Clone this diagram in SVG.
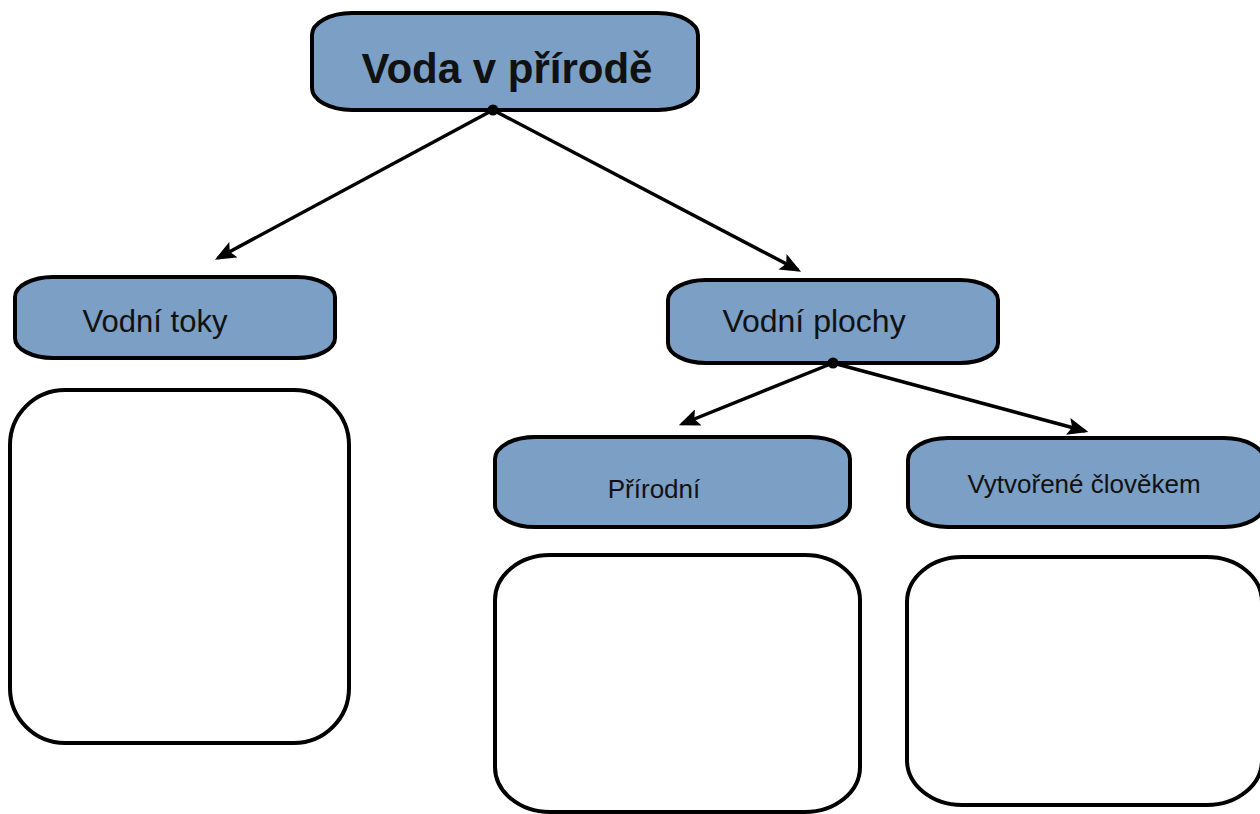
<svg xmlns="http://www.w3.org/2000/svg" width="1260" height="814" viewBox="0 0 1260 814">
<style>
.hd{fill:#7b9fc5;stroke:#000;stroke-width:4}
.bx{fill:#fff;stroke:#000;stroke-width:4}
.t{font-family:"Liberation Sans",Arial,sans-serif;fill:#111;text-anchor:middle}
.c{stroke:#000;stroke-width:3.5;fill:none;marker-end:url(#ah)}
</style>
<defs>
<marker id="ah" markerWidth="6" markerHeight="5" refX="5" refY="2.5" orient="auto" markerUnits="strokeWidth">
<path d="M0,0 L6,2.5 L0,5 L1.2,2.5 Z" fill="#000"/>
</marker>
</defs>
<rect width="1260" height="814" fill="#fff"/>
<g id="voda">
<rect class="hd" x="312" y="13" width="386" height="97" rx="40" ry="22"/>
<text class="t" x="507" y="83" font-size="42" font-weight="bold">Voda v přírodě</text>
</g>
<g id="toky">
<rect class="hd" x="15" y="277" width="320" height="81" rx="38" ry="20"/>
<text class="t" x="155" y="332" font-size="31">Vodní toky</text>
</g>
<g id="toky-box">
<rect class="bx" x="10" y="390" width="339" height="353" rx="55" ry="55"/>
</g>
<g id="plochy">
<rect class="hd" x="668" y="280" width="330" height="83" rx="38" ry="20"/>
<text class="t" x="814" y="332" font-size="32">Vodní plochy</text>
</g>
<g id="prirodni">
<rect class="hd" x="495" y="437" width="355" height="90" rx="40" ry="22"/>
<text class="t" x="654" y="498" font-size="26">Přírodní</text>
</g>
<g id="prirodni-box">
<rect class="bx" x="495" y="555" width="365" height="257" rx="55" ry="45"/>
</g>
<g id="vytvorene">
<rect class="hd" x="908" y="438" width="356" height="89" rx="40" ry="22"/>
<text class="t" x="1084" y="493" font-size="26">Vytvořené člověkem</text>
</g>
<g id="vytvorene-box">
<rect class="bx" x="907" y="557" width="355" height="248" rx="55" ry="45"/>
</g>
<g id="connectors">
<line class="c" x1="493" y1="110" x2="218" y2="258"/>
<line class="c" x1="493" y1="110" x2="798" y2="270"/>
<line class="c" x1="833" y1="363" x2="682" y2="424"/>
<line class="c" x1="833" y1="363" x2="1085" y2="431"/>
<circle cx="493" cy="110" r="5.5" fill="#000"/>
<circle cx="833" cy="363" r="5.5" fill="#000"/>
</g>
</svg>
